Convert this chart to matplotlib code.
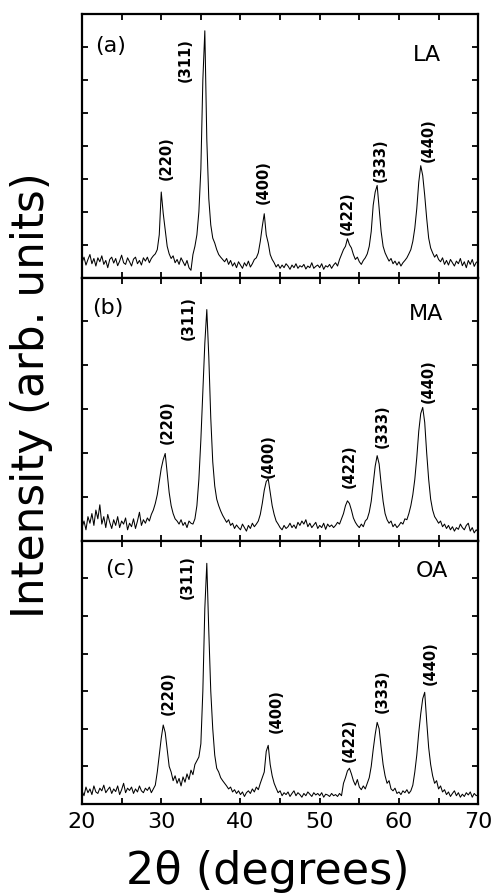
import numpy as np
import matplotlib
matplotlib.use("Agg")
import matplotlib.pyplot as plt
from matplotlib.ticker import MultipleLocator, FuncFormatter

# 2theta grid, 0.25 deg step, 20..70
two_theta = np.linspace(20, 70, 201)

# panel (a) LA, intensities (arb. units)
int_LA = [
    0.45, 0.62, 0.38, 0.55, 0.70, 0.42, 0.58, 0.35,
    0.60, 0.48, 0.66, 0.40, 0.52, 0.30, 0.55, 0.62,
    0.44, 0.58, 0.36, 0.50, 0.68, 0.45, 0.40, 0.60,
    0.48, 0.35, 0.56, 0.62, 0.42, 0.52, 0.38, 0.60,
    0.50, 0.62, 0.45, 0.58, 0.66, 0.72, 0.85, 1.30,
    2.60, 1.95, 1.45, 0.95, 0.72, 0.58, 0.66, 0.45,
    0.55, 0.40, 0.60, 0.48, 0.36, 0.52, 0.30, 0.22,
    0.70, 0.95, 1.30, 2.00, 3.30, 6.00, 7.50, 4.20,
    2.40, 1.60, 1.20, 1.05, 0.85, 0.70, 0.62, 0.55,
    0.48, 0.58, 0.40, 0.52, 0.35, 0.45, 0.30, 0.48,
    0.38, 0.28, 0.45, 0.35, 0.50, 0.32, 0.42, 0.55,
    0.60, 0.75, 1.10, 1.55, 1.94, 1.30, 1.05, 0.70,
    0.55, 0.45, 0.32, 0.40, 0.28, 0.38, 0.30, 0.42,
    0.35, 0.25, 0.38, 0.30, 0.42, 0.28, 0.36, 0.32,
    0.40, 0.26, 0.35, 0.30, 0.45, 0.28, 0.34, 0.38,
    0.30, 0.42, 0.25, 0.36, 0.32, 0.40, 0.28, 0.38,
    0.45, 0.35, 0.55, 0.70, 0.85, 0.95, 1.18, 1.00,
    0.90, 0.70, 0.55, 0.62, 0.48, 0.40, 0.52, 0.60,
    0.72, 0.95, 1.40, 2.20, 2.60, 2.80, 2.10, 1.40,
    0.95, 0.75, 0.62, 0.50, 0.58, 0.42, 0.50, 0.38,
    0.48, 0.35, 0.45, 0.52, 0.60, 0.72, 0.85, 1.10,
    1.50, 2.10, 2.90, 3.40, 3.10, 2.50, 1.80, 1.20,
    0.90, 0.75, 0.62, 0.70, 0.55, 0.48, 0.60, 0.40,
    0.52, 0.38, 0.55, 0.45, 0.35, 0.50, 0.42, 0.58,
    0.36, 0.48, 0.30, 0.52, 0.40, 0.55, 0.34, 0.46,
    0.50,
]

# panel (b) MA
int_MA = [
    0.30, 0.45, 0.25, 0.55, 0.40, 0.62, 0.35, 0.70,
    0.50, 0.82, 0.38, 0.55, 0.30, 0.60, 0.42, 0.28,
    0.48, 0.35, 0.55, 0.30, 0.45, 0.38, 0.52, 0.25,
    0.40, 0.32, 0.50, 0.28, 0.45, 0.65, 0.35, 0.48,
    0.40, 0.52, 0.45, 0.60, 0.70, 0.85, 1.05, 1.35,
    1.65, 1.85, 1.99, 1.55, 1.10, 0.80, 0.62, 0.50,
    0.45, 0.38, 0.48, 0.35, 0.42, 0.30, 0.45, 0.40,
    0.38, 0.50, 0.80, 1.40, 2.30, 3.40, 4.50, 5.27,
    4.20, 2.80, 1.80, 1.25, 0.95, 0.80, 0.68, 0.58,
    0.50, 0.42, 0.48, 0.35, 0.40, 0.28, 0.36, 0.30,
    0.25, 0.38, 0.30, 0.22, 0.35, 0.28, 0.40, 0.32,
    0.38, 0.45, 0.60, 0.85, 1.15, 1.35, 1.41, 1.10,
    0.80, 0.60, 0.45, 0.38, 0.30, 0.25, 0.35, 0.28,
    0.32, 0.40, 0.30, 0.36, 0.28, 0.42, 0.35, 0.45,
    0.38, 0.48, 0.32, 0.40, 0.30, 0.36, 0.42, 0.28,
    0.35, 0.30, 0.40, 0.26, 0.38, 0.32, 0.36, 0.30,
    0.35, 0.42, 0.38, 0.50, 0.62, 0.80, 0.91, 0.85,
    0.70, 0.52, 0.42, 0.35, 0.30, 0.38, 0.32, 0.45,
    0.50, 0.65, 0.90, 1.30, 1.70, 1.94, 1.75, 1.30,
    0.90, 0.62, 0.48, 0.40, 0.45, 0.32, 0.38, 0.30,
    0.35, 0.42, 0.38, 0.50, 0.48, 0.62, 0.80, 1.05,
    1.40, 1.90, 2.50, 2.90, 3.04, 2.70, 2.00, 1.40,
    0.95, 0.70, 0.55, 0.48, 0.40, 0.45, 0.32, 0.38,
    0.28, 0.35, 0.25, 0.32, 0.22, 0.30, 0.26, 0.38,
    0.30, 0.25, 0.35, 0.40, 0.22, 0.30, 0.18, 0.25,
    0.20,
]

# panel (c) OA
int_OA = [
    0.35, 0.22, 0.45, 0.30, 0.40, 0.25, 0.48, 0.32,
    0.28, 0.42, 0.35, 0.50, 0.30, 0.38, 0.45, 0.28,
    0.40, 0.33, 0.48, 0.25, 0.38, 0.55, 0.30, 0.42,
    0.36, 0.45, 0.28, 0.40, 0.32, 0.48, 0.35, 0.30,
    0.42, 0.36, 0.45, 0.30, 0.40, 0.50, 0.85, 1.30,
    1.75, 2.10, 1.90, 1.45, 1.00, 0.85, 0.62, 0.75,
    0.55, 0.68, 0.48, 0.72, 0.58, 0.80, 0.65, 0.90,
    0.78, 1.05, 1.15, 1.25, 1.60, 3.00, 5.20, 6.40,
    4.60, 3.00, 2.00, 1.30, 0.95, 0.85, 0.70, 0.62,
    0.55, 0.48, 0.40, 0.45, 0.32, 0.38, 0.28, 0.35,
    0.25, 0.32, 0.20, 0.30, 0.35, 0.28, 0.40, 0.32,
    0.45, 0.38, 0.55, 0.70, 0.85, 1.40, 1.56, 1.05,
    0.75, 0.55, 0.42, 0.30, 0.35, 0.22, 0.30, 0.25,
    0.32, 0.20, 0.28, 0.35, 0.22, 0.30, 0.25, 0.18,
    0.28, 0.22, 0.32, 0.26, 0.20, 0.30, 0.24, 0.28,
    0.22, 0.30, 0.18, 0.26, 0.24, 0.20, 0.28, 0.22,
    0.25, 0.20, 0.28, 0.22, 0.55, 0.70, 0.88, 0.95,
    0.80, 0.62, 0.50, 0.65, 0.45, 0.38, 0.48, 0.40,
    0.55, 0.70, 1.00, 1.45, 1.85, 2.17, 2.00, 1.50,
    1.05, 0.75, 0.55, 0.62, 0.40, 0.35, 0.42, 0.28,
    0.32, 0.25, 0.35, 0.30, 0.38, 0.28, 0.35, 0.50,
    0.85, 1.30, 1.90, 2.40, 2.80, 2.97, 2.20, 1.50,
    1.05, 0.75, 0.55, 0.62, 0.40, 0.48, 0.32, 0.38,
    0.25, 0.32, 0.20, 0.28, 0.35, 0.22, 0.30, 0.18,
    0.26, 0.20, 0.30, 0.24, 0.32, 0.18, 0.28, 0.22,
    0.25,
]

hkl = ["(220)", "(311)", "(400)", "(422)", "(333)", "(440)"]
# label anchor (bottom of rotated text) per panel
lab_x_LA = [30.6, 33.0, 42.85, 53.5, 57.6, 63.7]
lab_y_LA = [2.95, 5.93, 2.25, 1.28, 2.89, 3.50]
lab_x_MA = [30.7, 33.4, 43.5, 53.7, 57.9, 63.7]
lab_y_MA = [2.21, 4.57, 1.44, 1.21, 2.12, 3.13]
lab_x_OA = [30.9, 33.3, 44.5, 53.7, 57.9, 63.9]
lab_y_OA = [2.36, 5.45, 1.88, 1.11, 2.41, 3.16]

panels = [
    ("(a)", "LA", int_LA, 8, lab_x_LA, lab_y_LA, 0.034, 0.878, 0.905, 0.845),
    ("(b)", "MA", int_MA, 6, lab_x_MA, lab_y_MA, 0.026, 0.886, 0.912, 0.863),
    ("(c)", "OA", int_OA, 7, lab_x_OA, lab_y_OA, 0.058, 0.894, 0.924, 0.886),
]

plt.rcParams['font.family'] = ['DejaVu Sans']

fig, axes = plt.subplots(3, 1, figsize=(4.94, 8.96), dpi=100, sharex=True)
fig.subplots_adjust(left=0.166, right=0.968, top=0.984, bottom=0.1027, hspace=0)

for ax, (tag, name, yy, ytop, lx, ly, tx, ty, nx, ny) in zip(axes, panels):
    ax.plot(two_theta, yy, color='black', linewidth=0.75)
    ax.set_xlim(20, 70)
    ax.set_ylim(0, ytop)
    ax.xaxis.set_major_locator(MultipleLocator(5))
    ax.yaxis.set_major_locator(MultipleLocator(1))
    ax.tick_params(direction='in', top=True, right=True, length=4, width=1.3,
                   labelleft=False, labelsize=16, pad=6)
    ax.xaxis.set_major_formatter(
        FuncFormatter(lambda v, p: f"{int(v)}" if int(v) % 10 == 0 else ""))
    for s in ax.spines.values():
        s.set_linewidth(1.6)
    for t, x, y in zip(hkl, lx, ly):
        ax.text(x, y, t, rotation=90, ha='center', va='bottom',
                fontsize=10.5, fontweight='bold')
    ax.text(tx, ty, tag, transform=ax.transAxes, ha='left', va='center', fontsize=16)
    ax.text(nx, ny, name, transform=ax.transAxes, ha='right', va='center', fontsize=16)

for ax in axes[:-1]:
    ax.tick_params(labelbottom=False)

fig.text(0.063, 0.559, "Intensity (arb. units)", rotation=90,
         ha='center', va='center', fontsize=31.5)
fig.text(0.542, 0.0134, "2\u03b8 (degrees)", ha='center', va='baseline', fontsize=32)

fig.savefig("out.png", dpi=100)
